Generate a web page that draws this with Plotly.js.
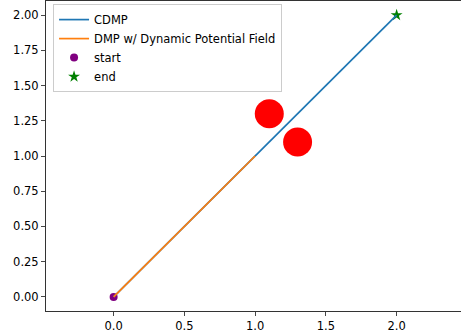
<!DOCTYPE html>
<html><head><meta charset="utf-8">
<script src="https://cdn.plot.ly/plotly-3.0.1.min.js"></script>
<style>html,body{margin:0;padding:0;background:#fff}</style>
</head><body><div id="chart" style="width:461px;height:334px"></div>
<script>
const cdmpX = [0, 0.5, 1.0, 1.5, 2.0];
const cdmpY = [0, 0.5, 1.0, 1.5, 2.0];
const dmpX = [0, 0.25, 0.5, 0.75, 1.0];
const dmpY = [0, 0.25, 0.5, 0.75, 1.0];
const startPt = [0, 0];
const endPt = [2, 2];
const obstacleX = [1.1, 1.3];
const obstacleY = [1.3, 1.1];
const xTicks = [0, 0.5, 1.0, 1.5, 2.0];
const yTicks = [0, 0.25, 0.5, 0.75, 1.0, 1.25, 1.5, 1.75, 2.0];

const FS = 11.5;
const traces = [
  {x: obstacleX, y: obstacleY, mode: 'markers', type: 'scatter', showlegend: false,
   marker: {color: '#ff0000', size: 29, line: {width: 0}}, hoverinfo: 'skip'},
  {x: [startPt[0]], y: [startPt[1]], mode: 'markers', type: 'scatter', name: 'start', legendrank: 3,
   marker: {color: '#800080', size: 8, symbol: 'circle', line: {width: 0}}},
  {x: [endPt[0]], y: [endPt[1]], mode: 'markers', type: 'scatter', name: 'end', legendrank: 4,
   marker: {color: '#008000', size: 9, symbol: 'star', line: {width: 0}}},
  {x: cdmpX, y: cdmpY, mode: 'lines', type: 'scatter', name: 'CDMP', legendrank: 1,
   line: {color: '#1f77b4', width: 1.7}},
  {x: dmpX, y: dmpY, mode: 'lines', type: 'scatter', name: 'DMP w/ Dynamic Potential Field', legendrank: 2,
   line: {color: '#ff7f0e', width: 1.7}}
];

const layout = {
  width: 461, height: 334,
  margin: {l: 46, r: 0, t: 1, b: 23, pad: 0},
  paper_bgcolor: '#ffffff', plot_bgcolor: '#ffffff',
  font: {family: 'DejaVu Sans', size: FS, color: '#000'},
  showlegend: true,
  legend: {x: 0.017, y: 0.99, xanchor: 'left', yanchor: 'top',
    bgcolor: 'rgba(255,255,255,0.8)', bordercolor: '#cccccc', borderwidth: 1,
    font: {family: 'DejaVu Sans', size: FS, color: '#000'}, tracegroupgap: 0,
    traceorder: 'normal'},
  xaxis: {range: [-0.478, 2.455], tickvals: xTicks, ticktext: xTicks.map(v => v.toFixed(1)),
    showgrid: false, zeroline: false, showline: true, linecolor: '#333', linewidth: 1,
    mirror: true, ticks: 'outside', ticklen: 4, tickwidth: 0.9, tickcolor: '#333',
    tickfont: {family: 'DejaVu Sans', size: FS, color: '#000'}},
  yaxis: {range: [-0.1, 2.1], tickvals: yTicks, ticktext: yTicks.map(v => v.toFixed(2)),
    showgrid: false, zeroline: false, showline: true, linecolor: '#333', linewidth: 1,
    mirror: false, ticks: 'outside', ticklen: 4, tickwidth: 0.9, tickcolor: '#333',
    tickfont: {family: 'DejaVu Sans', size: FS, color: '#000'}}
};

Plotly.newPlot('chart', traces, layout, {displayModeBar: false, staticPlot: true});
</script></body></html>
